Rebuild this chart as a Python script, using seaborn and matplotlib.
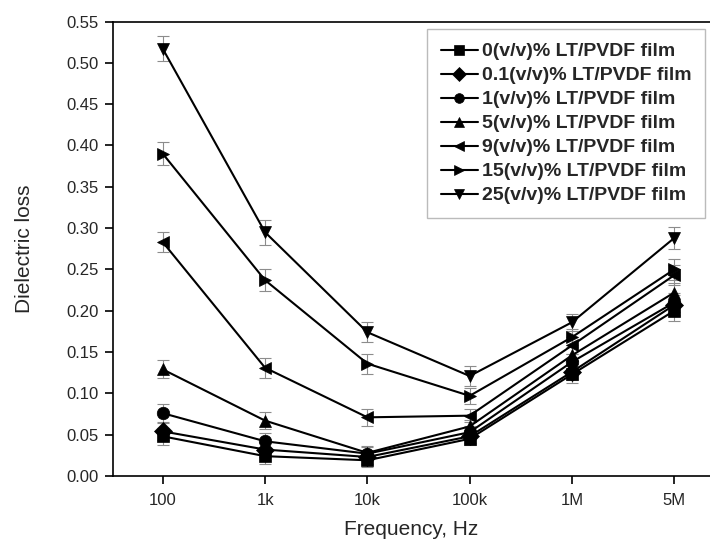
import pandas as pd
import matplotlib
matplotlib.use('Agg')
import matplotlib.pyplot as plt
import seaborn as sns
import numpy as np

# Dados
freqs = ['100', '1k', '10k', '100k', '1M', '5M']
series_names = ['0(v/v)% LT/PVDF film', '0.1(v/v)% LT/PVDF film', '1(v/v)% LT/PVDF film',
                '5(v/v)% LT/PVDF film', '9(v/v)% LT/PVDF film', '15(v/v)% LT/PVDF film',
                '25(v/v)% LT/PVDF film']

loss_0 = [0.048, 0.024, 0.019, 0.045, 0.123, 0.200]
loss_01 = [0.054, 0.032, 0.023, 0.048, 0.126, 0.207]
loss_1 = [0.076, 0.042, 0.027, 0.053, 0.138, 0.210]
loss_5 = [0.129, 0.067, 0.028, 0.060, 0.146, 0.222]
loss_9 = [0.283, 0.131, 0.071, 0.073, 0.158, 0.243]
loss_15 = [0.390, 0.237, 0.136, 0.097, 0.168, 0.250]
loss_25 = [0.517, 0.295, 0.174, 0.121, 0.186, 0.288]

err_0 = [0.010, 0.009, 0.008, 0.008, 0.010, 0.012]
err_01 = [0.010, 0.009, 0.008, 0.008, 0.010, 0.012]
err_1 = [0.011, 0.010, 0.008, 0.008, 0.010, 0.012]
err_5 = [0.011, 0.010, 0.008, 0.008, 0.010, 0.012]
err_9 = [0.012, 0.012, 0.010, 0.008, 0.010, 0.012]
err_15 = [0.014, 0.013, 0.012, 0.010, 0.010, 0.013]
err_25 = [0.015, 0.015, 0.012, 0.012, 0.010, 0.013]

all_loss = [loss_0, loss_01, loss_1, loss_5, loss_9, loss_15, loss_25]
all_err = [err_0, err_01, err_1, err_5, err_9, err_15, err_25]
marker_list = ['s', 'D', 'o', '^', '<', '>', 'v']

# Tabela longa para o seaborn
rows = []
for name, vals in zip(series_names, all_loss):
    for f, v in zip(freqs, vals):
        rows.append({'freq': f, 'loss': v, 'film': name})
df = pd.DataFrame(rows)

sns.set_style('ticks')
plt.rcParams['font.family'] = ['Liberation Sans', 'DejaVu Sans']

fig = plt.figure(figsize=(7.1, 5.39), dpi=100)
ax = fig.add_axes([0.1587, 0.1169, 0.8413, 0.8431])

# Barras de erro (cinzento claro, por trás)
for vals, errs in zip(all_loss, all_err):
    ax.errorbar(freqs, vals, yerr=errs, fmt='none', ecolor='#8c8c8c',
                elinewidth=0.8, capsize=4, capthick=0.8, zorder=1)

sns.lineplot(data=df, x='freq', y='loss', hue='film', style='film',
             palette=['black'] * 7, markers=dict(zip(series_names, marker_list)),
             dashes=False, linewidth=1.5, markersize=9, markeredgecolor='black',
             markeredgewidth=0.5, ax=ax, zorder=3, legend=True)

ax.set_xlim(-0.49, 5.35)
ax.set_ylim(0, 0.55)
ax.set_yticks(np.arange(0, 0.551, 0.05))
ax.set_yticklabels([f'{t:.2f}' for t in np.arange(0, 0.551, 0.05)])
ax.tick_params(axis='both', labelsize=12, length=6, width=1.2, color='black',
               direction='out', pad=4)
ax.tick_params(axis='x', pad=6)
ax.set_xlabel('Frequency, Hz', fontsize=15, labelpad=9)
ax.set_ylabel('Dielectric loss', fontsize=15, labelpad=23)
for s in ['left', 'bottom', 'top']:
    ax.spines[s].set_linewidth(1.2)
    ax.spines[s].set_color('black')
ax.spines['right'].set_visible(False)

handles, labels = ax.get_legend_handles_labels()
for h in handles:
    h.set_markersize(7)
leg = ax.legend(handles, labels, loc='upper right', bbox_to_anchor=(0.993, 0.946),
                bbox_transform=fig.transFigure, frameon=True, fancybox=False,
                edgecolor='#aaaaaa', prop={'weight': 'bold', 'size': 14},
                handlelength=1.9, handletextpad=0.2, labelspacing=0.33, borderpad=0.7,
                borderaxespad=0)
leg.get_frame().set_linewidth(1.0)

plt.savefig('out.png', dpi=100)
